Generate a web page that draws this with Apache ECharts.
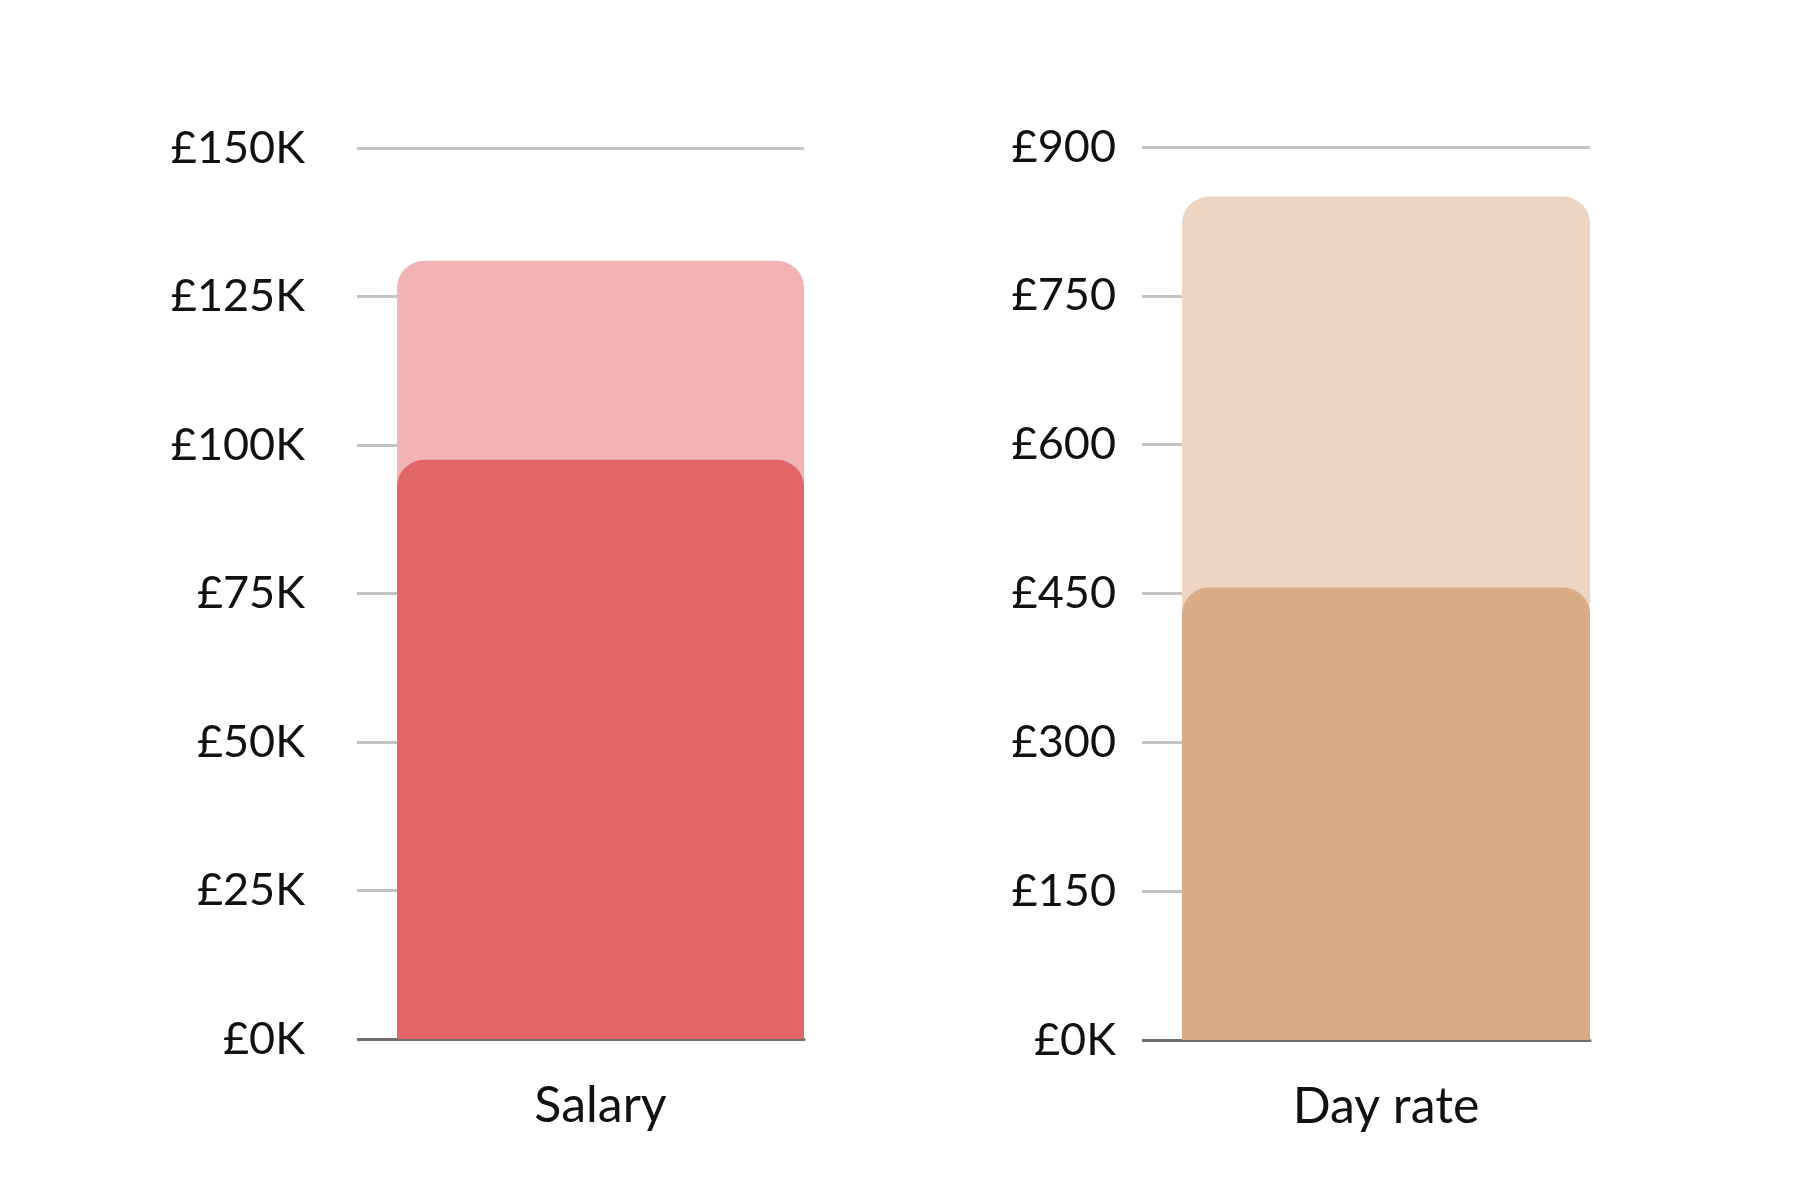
<!DOCTYPE html>
<html>
<head>
<meta charset="utf-8">
<title>Salary and day rate</title>
<script src="https://cdn.jsdelivr.net/npm/echarts@6.0.0/dist/echarts.min.js"></script>
<style>
    html, body { margin: 0; padding: 0; background: #ffffff; }
    #main { width: 1800px; height: 1200px; }
</style>
</head>
<body>
<div id="main"></div>
<script>
// data
var salaryCategory = ['Salary'];
var salaryUpper = [131000];
var salaryLower = [97500];
var salaryTicks = ['£0K', '£25K', '£50K', '£75K', '£100K', '£125K', '£150K'];

var dayRateCategory = ['Day rate'];
var dayRateUpper = [850];
var dayRateLower = [456];
var dayRateTicks = ['£0K', '£150', '£300', '£450', '£600', '£750', '£900'];

var fontName = 'Lato';
var gridLine = { color: '#c4c4c4', width: 3, type: 'solid' };
var baseLine = { color: '#6e6e6e', width: 3, type: 'solid' };

window.onload = function () {
    initChart();
};

function tickValues(ticks, interval) { // every tick above zero
    var out = [];
    for (var i = 1; i < ticks.length; i++) {
        out.push(i * interval);
    }
    return out;
}

function makeYAxis(gridIndex, max, interval, ticks, margin) {
    return {
        gridIndex: gridIndex,
        type: 'value',
        position: 'left',
        min: 0,
        max: max,
        interval: interval,
        axisLine: { show: false },
        axisTick: { show: true, length: 40, lineStyle: gridLine, customValues: tickValues(ticks, interval) },
        splitLine: { show: true, lineStyle: gridLine },
        axisLabel: {
            margin: margin,
            color: '#111111',
            fontFamily: fontName,
            fontSize: 45,
            formatter: function (value) {
                return ticks[Math.round(value / interval)];
            }
        }
    };
}

// second axis on the same grid, only to carry the dark stub of the base line
function makeBaseAxis(gridIndex, max, interval) {
    return {
        gridIndex: gridIndex,
        type: 'value',
        position: 'left',
        min: 0,
        max: max,
        interval: interval,
        axisLine: { show: false },
        axisTick: { show: true, length: 40, lineStyle: baseLine, customValues: [0] },
        splitLine: { show: false },
        axisLabel: { show: false }
    };
}

function makeXAxis(gridIndex, cats) {
    return {
        gridIndex: gridIndex,
        type: 'category',
        data: cats,
        boundaryGap: true,
        axisTick: { show: false },
        axisLine: { show: true, lineStyle: baseLine },
        axisLabel: {
            margin: 42,
            color: '#111111',
            fontFamily: fontName,
            fontSize: 50
        }
    };
}

function initChart() {
    var myChart = echarts.init(document.getElementById('main'));
    var radius = [27, 27, 0, 0];
    var options = {
        animation: false,
        backgroundColor: '#ffffff',
        grid: [
            { left: 397, width: 407, top: 148, bottom: 161 },
            { left: 1182, width: 408, top: 147, bottom: 160 }
        ],
        xAxis: [
            makeXAxis(0, salaryCategory),
            makeXAxis(1, dayRateCategory)
        ],
        yAxis: [
            makeYAxis(0, 150000, 25000, salaryTicks, 92),
            makeYAxis(1, 900, 150, dayRateTicks, 66),
            makeBaseAxis(0, 150000, 25000),
            makeBaseAxis(1, 900, 150)
        ],
        series: [
            {
                name: 'Salary upper',
                type: 'bar',
                xAxisIndex: 0,
                yAxisIndex: 0,
                barWidth: '100%',
                data: salaryUpper,
                itemStyle: { color: '#f2b3b4', borderRadius: radius }
            },
            {
                name: 'Salary lower',
                type: 'bar',
                xAxisIndex: 0,
                yAxisIndex: 0,
                barWidth: '100%',
                barGap: '-100%',
                data: salaryLower,
                itemStyle: { color: '#e26567', borderRadius: radius }
            },
            {
                name: 'Day rate upper',
                type: 'bar',
                xAxisIndex: 1,
                yAxisIndex: 1,
                barWidth: '100%',
                data: dayRateUpper,
                itemStyle: { color: '#edd4c3', borderRadius: radius }
            },
            {
                name: 'Day rate lower',
                type: 'bar',
                xAxisIndex: 1,
                yAxisIndex: 1,
                barWidth: '100%',
                barGap: '-100%',
                data: dayRateLower,
                itemStyle: { color: '#d9ac85', borderRadius: radius }
            }
        ]
    };
    myChart.setOption(options);
}
</script>
</body>
</html>
